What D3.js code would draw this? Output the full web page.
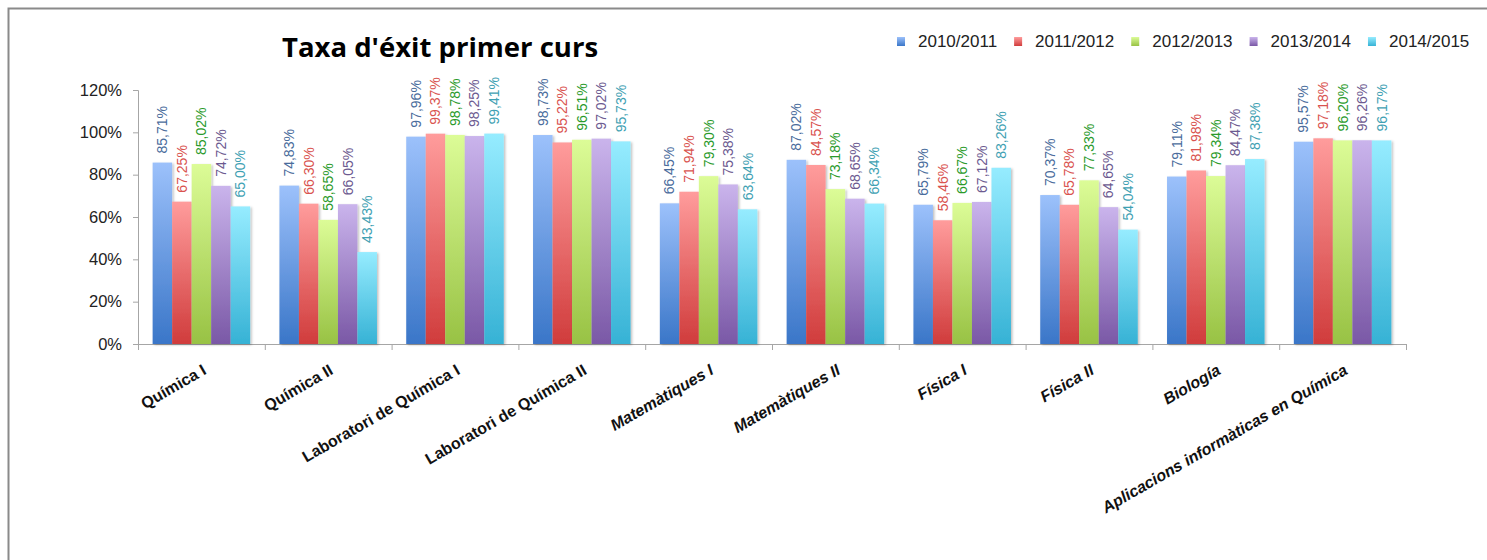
<!DOCTYPE html>
<html>
<head>
<meta charset="utf-8">
<script src="https://cdnjs.cloudflare.com/ajax/libs/d3/7.8.5/d3.min.js"></script>
<style>
  body { margin: 0; background: #fff; }
  svg { display: block; font-family: "Liberation Sans", Arial, sans-serif; }
</style>
</head>
<body>
<svg id="chart" width="1487" height="560"></svg>
<script>
// categories (subjects) and school years
var categories = ["Química I", "Química II", "Laboratori de Química I", "Laboratori de Química II",
  "Matemàtiques I", "Matemàtiques II", "Física I", "Física II", "Biología",
  "Aplicacions informàticas en Química"];
var years = ["2010/2011", "2011/2012", "2012/2013", "2013/2014", "2014/2015"];

// success rate per year, one value per subject (percent)
var y2010 = [85.71, 74.83, 97.96, 98.73, 66.45, 87.02, 65.79, 70.37, 79.11, 95.57];
var y2011 = [67.25, 66.30, 99.37, 95.22, 71.94, 84.57, 58.46, 65.78, 81.98, 97.18];
var y2012 = [85.02, 58.65, 98.78, 96.51, 79.30, 73.18, 66.67, 77.33, 79.34, 96.20];
var y2013 = [74.72, 66.05, 98.25, 97.02, 75.38, 68.65, 67.12, 64.65, 84.47, 96.26];
var y2014 = [65.00, 43.43, 99.41, 95.73, 63.64, 66.34, 83.26, 54.04, 87.38, 96.17];

var yTicks = [0, 20, 40, 60, 80, 100, 120];

var seriesValues = [y2010, y2011, y2012, y2013, y2014];

// colours: bottom (dark), top (light), label
var darkCol  = ["#3a76c8", "#d03c3c", "#98c244", "#7a58a6", "#36b2d5"];
var lightCol = ["#9cc1fb", "#ff9c9c", "#dcfc97", "#cab4ec", "#96ecff"];
var labelCol = ["#4a6c9c", "#d9534f", "#2a9a2a", "#6c5a90", "#3fa1b3"];

var svg = d3.select("#chart");

// outer frame
svg.append("rect")
   .attr("x", 8.5).attr("y", 8.5)
   .attr("width", 1500).attr("height", 600)
   .attr("fill", "none")
   .attr("stroke", "#8a8a8a")
   .attr("stroke-width", 2);

var defs = svg.append("defs");
darkCol.forEach(function(c, i) {
  var g = defs.append("linearGradient")
      .attr("id", "grad" + i)
      .attr("x1", 0).attr("y1", 0).attr("x2", 0).attr("y2", 1);
  g.append("stop").attr("offset", "0%").attr("stop-color", lightCol[i]);
  g.append("stop").attr("offset", "100%").attr("stop-color", c);
});
var shadow = defs.append("filter").attr("id", "shadow")
    .attr("x", "-20%").attr("y", "-5%").attr("width", "150%").attr("height", "115%");
shadow.append("feDropShadow")
      .attr("dx", 1.5).attr("dy", 1).attr("stdDeviation", 1)
      .attr("flood-color", "#000").attr("flood-opacity", 0.25);

var plotLeft = 138, plotRight = 1406, plotTop = 90, plotBottom = 344;

var y = d3.scaleLinear().domain([0, 120]).range([plotBottom, plotTop]);
var x = d3.scaleBand().domain(categories).range([plotLeft, plotRight]).padding(0);
var bw = x.bandwidth();
var barW = bw / 6.5;
var x1 = d3.scaleBand().domain(years)
    .range([(bw - 5 * barW) / 2, (bw + 5 * barW) / 2]).padding(0);

// y axis
var yAxis = svg.append("g")
   .attr("transform", "translate(" + plotLeft + ",0)")
   .call(d3.axisLeft(y).tickValues(yTicks).tickSize(5).tickPadding(11)
          .tickFormat(function(d) { return d + "%"; }));
yAxis.selectAll("path, line").attr("stroke", "#a6a6a6");
yAxis.selectAll("text").attr("font-size", 16.5).attr("fill", "#222");

// x axis, ticks between categories
var xi = d3.scaleLinear().domain([0, categories.length]).range([plotLeft, plotRight]);
var xAxis = svg.append("g")
   .attr("transform", "translate(0," + plotBottom + ")")
   .call(d3.axisBottom(xi).ticks(categories.length).tickSize(6).tickSizeOuter(0)
          .tickFormat(""));
xAxis.selectAll("path, line").attr("stroke", "#a6a6a6");

// bars
var rows = categories.map(function(c, ci) {
  return years.map(function(yr, si) { return { cat: c, year: yr, s: si, v: seriesValues[si][ci] }; });
});

var groups = svg.selectAll("g.cat")
   .data(rows)
   .enter().append("g")
   .attr("class", "cat")
   .attr("transform", function(d, i) { return "translate(" + x(categories[i]) + ",0)"; });

groups.selectAll("rect")
   .data(function(d) { return d; })
   .enter().append("rect")
   .attr("x", function(d) { return x1(d.year); })
   .attr("y", function(d) { return y(d.v); })
   .attr("width", x1.bandwidth())
   .attr("height", function(d) { return plotBottom - y(d.v); })
   .attr("fill", function(d) { return "url(#grad" + d.s + ")"; })
   .attr("filter", "url(#shadow)");

// value labels, rotated
groups.selectAll("text")
   .data(function(d) { return d; })
   .enter().append("text")
   .attr("transform", function(d) {
     return "translate(" + (x1(d.year) + x1.bandwidth() / 2) + "," + (y(d.v) - 9) + ") rotate(-90)";
   })
   .attr("dy", "0.35em")
   .attr("font-size", 14)
   .attr("fill", function(d) { return labelCol[d.s]; })
   .text(function(d) { return d.v.toFixed(2).replace(".", ",") + "%"; });

// category labels
svg.selectAll("text.catlabel")
   .data(categories)
   .enter().append("text")
   .attr("class", "catlabel")
   .attr("transform", function(d) { return "translate(" + (x(d) + bw / 2) + ",363) rotate(-30)"; })
   .attr("dy", "0.75em")
   .attr("text-anchor", "end")
   .attr("font-size", 16)
   .attr("font-weight", "bold")
   .attr("font-style", function(d, i) { return i >= 4 ? "italic" : "normal"; })
   .attr("fill", "#111")
   .text(function(d) { return d; });

// title
svg.append("text")
   .attr("x", 282).attr("y", 57)
   .attr("font-size", 27.5)
   .attr("font-weight", "bold")
   .attr("font-family", "'Open Sans', sans-serif")
   .attr("fill", "#000")
   .text("Taxa d'éxit primer curs");

// legend
var lx = 897;
years.forEach(function(yr, i) {
  svg.append("rect")
     .attr("x", lx).attr("y", 37)
     .attr("width", 8).attr("height", 9)
     .attr("fill", "url(#grad" + i + ")");
  var t = svg.append("text")
     .attr("x", lx + 21).attr("y", 47)
     .attr("font-size", 17)
     .attr("fill", "#222")
     .text(yr);
  lx += 21 + t.node().getComputedTextLength() + 17;
});
</script>
</body>
</html>
